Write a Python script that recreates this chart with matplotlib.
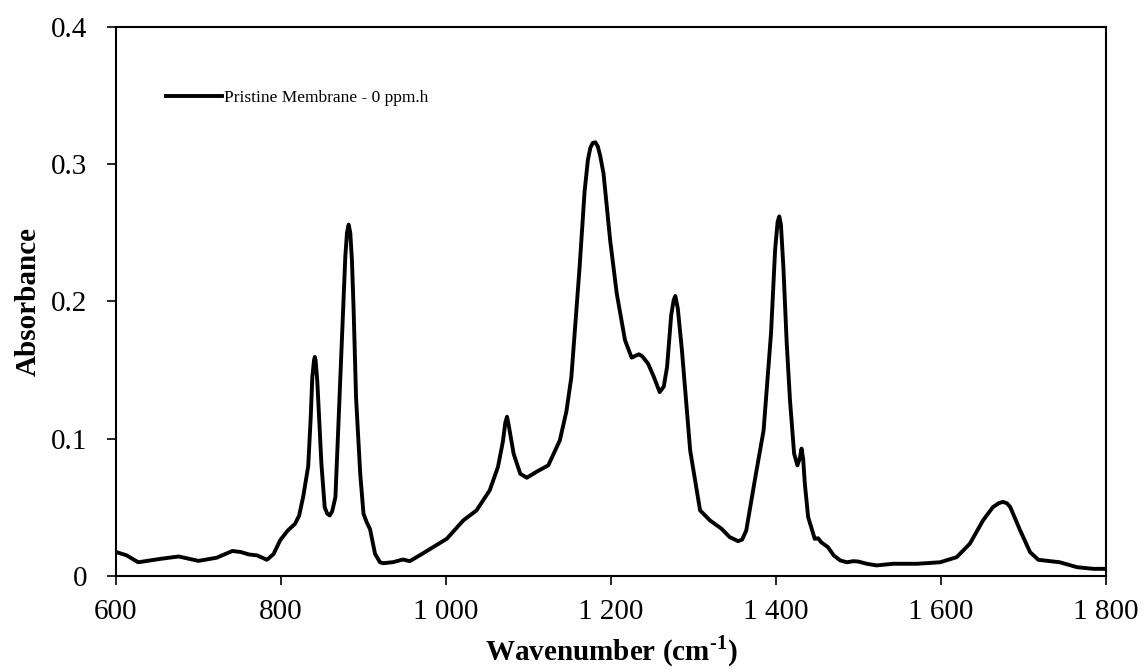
import matplotlib
matplotlib.use('Agg')
import matplotlib.pyplot as plt

# FTIR spectrum, values
wavenumber = [600, 613, 627, 654, 676, 700, 722, 741, 751, 761, 771, 783, 791,
              799, 808, 817, 822, 827, 833, 836, 838, 840, 841, 842, 844, 846, 849, 853,
              856, 859, 862, 866, 871, 876, 878, 880, 882, 884, 886, 888, 891, 896, 900,
              904, 908, 914, 920, 924, 936, 948, 956, 968, 981, 1001, 1021,
              1037, 1053, 1063, 1069, 1072, 1074, 1076, 1082, 1090, 1098, 1110, 1124,
              1138, 1146, 1152, 1162, 1168, 1172, 1175, 1178, 1181, 1184, 1187, 1191, 1199, 1207,
              1217, 1225, 1230, 1234, 1238, 1245, 1252, 1259, 1264, 1268, 1273,
              1276, 1278, 1281, 1286, 1296, 1308, 1320, 1334, 1344, 1354, 1359, 1364,
              1375, 1385, 1394, 1399, 1402, 1404, 1406, 1409, 1413, 1417, 1422, 1426, 1429,
              1431, 1433, 1435, 1439, 1447, 1451, 1455, 1463, 1470, 1478, 1486,
              1494, 1500, 1510, 1522, 1542, 1571, 1599, 1619, 1635, 1651, 1663,
              1670, 1675, 1680, 1684, 1696, 1708, 1718, 1744, 1765, 1785, 1800]
absorbance = [0.0175, 0.0150, 0.0100, 0.0125, 0.0142, 0.0110, 0.0133, 0.0182, 0.0175,
              0.0157, 0.0150, 0.0118, 0.0160, 0.0260, 0.0330, 0.0380, 0.0440,
              0.0580, 0.0800, 0.1150, 0.1450, 0.1570, 0.1596, 0.1570, 0.1420, 0.1180, 0.0818,
              0.0500, 0.0455, 0.0441, 0.0470, 0.0575, 0.1300, 0.2033, 0.2330,
              0.2500, 0.2560, 0.2500, 0.2300, 0.1950, 0.1300, 0.0750, 0.0454, 0.0390, 0.0340,
              0.0162, 0.0100, 0.0093, 0.0101, 0.0120, 0.0108, 0.0150, 0.0198,
              0.0271, 0.0405, 0.0478, 0.0624, 0.0794, 0.0980, 0.1120, 0.1160, 0.1100,
              0.0891, 0.0745, 0.0716, 0.0760, 0.0806, 0.0988, 0.1200, 0.1450,
              0.2252, 0.2800, 0.3030, 0.3120, 0.3155, 0.3160, 0.3130, 0.3060, 0.2930, 0.2447, 0.2058,
              0.1718, 0.1591, 0.1605, 0.1615, 0.1600, 0.1547, 0.1450, 0.1340,
              0.1380, 0.1523, 0.1900, 0.2010, 0.2040, 0.1950, 0.1645, 0.0915, 0.0478,
              0.0405, 0.0344, 0.0283, 0.0254, 0.0265, 0.0332, 0.0720, 0.1061,
              0.1767, 0.2380, 0.2580, 0.2620, 0.2560, 0.2250, 0.1700, 0.1280, 0.0891, 0.0806,
              0.0860, 0.0928, 0.0850, 0.0672, 0.0429, 0.0271, 0.0275, 0.0245,
              0.0210, 0.0150, 0.0113, 0.0100, 0.0108, 0.0105, 0.0089, 0.0077,
              0.0089, 0.0089, 0.0100, 0.0137, 0.0235, 0.0405, 0.0502, 0.0530,
              0.0540, 0.0530, 0.0502, 0.0332, 0.0174, 0.0118, 0.0100, 0.0064,
              0.0052, 0.0052]
xticks = [600, 800, 1000, 1200, 1400, 1600, 1800]
xticklabels = ['600', '800', '1 000', '1 200', '1 400', '1 600', '1 800']
yticks = [0, 0.1, 0.2, 0.3, 0.4]
yticklabels = ['0', '0.1', '0.2', '0.3', '0.4']

plt.rcParams['font.family'] = ['Liberation Serif', 'DejaVu Serif']
plt.rcParams['mathtext.fontset'] = 'custom'
plt.rcParams['mathtext.rm'] = 'Liberation Serif'
plt.rcParams['mathtext.bf'] = 'Liberation Serif:bold'

fig = plt.figure(figsize=(11.45, 6.71), dpi=100)
ax = fig.add_axes([0.1013, 0.1416, 0.8646, 0.8182])

ax.plot(wavenumber, absorbance, color='black', linewidth=2.8,
        solid_joinstyle='round', label='Pristine Membrane - 0 ppm.h')

ax.set_xlim(600, 1800)
ax.set_ylim(0, 0.4)
ax.set_xticks(xticks)
ax.set_xticklabels(xticklabels)
ax.set_yticks(yticks)
ax.set_yticklabels(yticklabels)
ax.tick_params(direction='out', length=6.5, width=1.2, labelsize=21)
ax.tick_params(axis='x', pad=10)
ax.tick_params(axis='y', pad=14)
for s in ax.spines.values():
    s.set_linewidth(1.5)

ax.set_xlabel(r'Wavenumber (cm$^{\mathbf{\text{-}1}}$)', fontsize=21, fontweight='bold', labelpad=6)
ax.set_ylabel('Absorbance', fontsize=21, fontweight='bold', labelpad=7)

ax.legend(loc='center left', bbox_to_anchor=(0.051, 0.870), frameon=False,
          fontsize=12.5, handlelength=3.2, handletextpad=0.1,
          borderpad=0, borderaxespad=0)

fig.savefig('out.png', dpi=100)
